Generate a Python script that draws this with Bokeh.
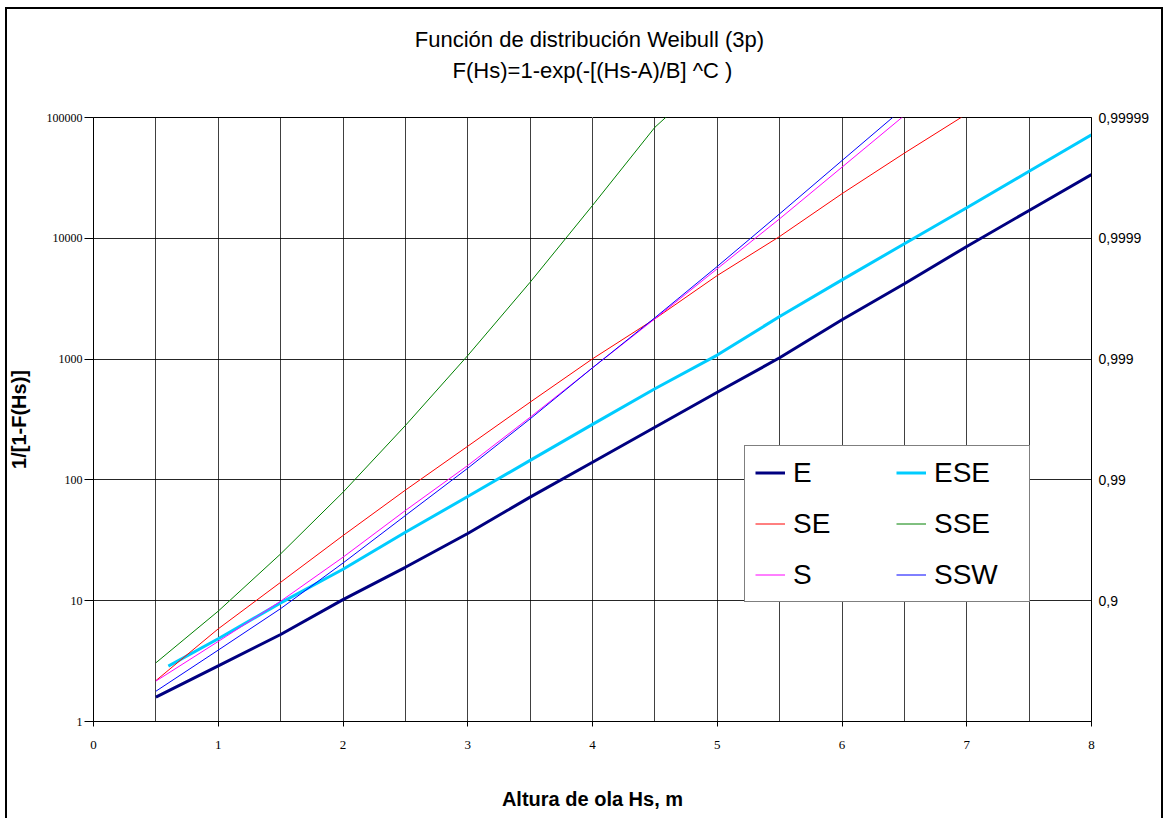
from bokeh.plotting import figure
from bokeh.models import (FixedTicker, Legend, LegendItem, Title, Range1d, LogAxis, LinearAxis)
from bokeh.embed import file_html
from bokeh.resources import INLINE

# ---- data ----
x_E = [0.5, 1, 1.5, 2, 2.5, 3, 3.5, 4, 4.5, 5, 5.5, 6, 6.5, 7, 7.5, 8]
y_E = [1.59, 2.89, 5.25, 10.2, 18.9, 36, 72, 140, 273, 532, 1025, 2115, 4200, 8560, 17000, 33700]

x_ESE = [0.6, 1, 1.5, 2, 2.5, 3, 3.5, 4, 4.5, 5, 5.5, 6, 6.5, 7, 7.5, 8]
y_ESE = [2.87, 4.84, 9.6, 18.2, 36.9, 72.8, 145, 288, 568, 1080, 2253, 4530, 9010, 17900, 35900, 71900]

x_SE = [0.5, 1, 1.5, 2, 2.5, 3, 3.5, 4, 4.5, 5, 5.5, 6, 6.5, 7]
y_SE = [2.18, 5.85, 14.2, 34.6, 82.3, 190, 440, 1005, 2155, 4920, 10350, 23400, 50700, 107000]

x_SSE = [0.5, 1, 1.5, 2, 2.5, 3, 3.5, 4, 4.5, 4.6]
y_SSE = [3.06, 8.2, 24.4, 79, 282, 1070, 4330, 18700, 83000, 103000]

x_S = [0.5, 1, 1.5, 2, 2.5, 3, 3.5, 4, 4.5, 5, 5.5, 6, 6.5]
y_S = [2.16, 4.6, 9.9, 22.9, 55.8, 131.6, 330, 847, 2155, 5600, 14500, 38800, 104000]

x_SSW = [0.5, 1, 1.5, 2, 2.5, 3, 3.5, 4, 4.5, 5, 5.5, 6, 6.5]
y_SSW = [1.78, 3.9, 8.6, 20.5, 50.7, 125, 320, 847, 2200, 5850, 15950, 44000, 121000]

x_marker = [0]
y_marker = [1]

x_ticks = [0, 1, 2, 3, 4, 5, 6, 7, 8]
x_grid = [0, 0.5, 1, 1.5, 2, 2.5, 3, 3.5, 4, 4.5, 5, 5.5, 6, 6.5, 7, 7.5, 8]
y_ticks = [1, 10, 100, 1000, 10000, 100000]
right_ticks = [10, 100, 1000, 10000, 100000]
right_labels = ["0,9", "0,99", "0,999", "0,9999", "0,99999"]
spacer_ticks = [4]

title1 = "Función de distribución  Weibull (3p)"
title2 = "F(Hs)=1-exp(-[(Hs-A)/B] ^C )"
x_title = "Altura de ola Hs, m"
y_title = "1/[1-F(Hs)]"

W, H = 1166, 818
L, R, T, B = 93, 1091, 117, 721

# outer chart-area frame (drawn as CSS background lines behind a transparent canvas)
frame_css = {
    "background-color": "white",
    "background-image": ("linear-gradient(#000,#000), linear-gradient(#000,#000), "
                         "linear-gradient(#000,#000)"),
    "background-position": "5px 7px, 5px 7px, 1161px 7px",
    "background-size": "2px 811px, 1158px 2px, 2px 811px",
    "background-repeat": "no-repeat",
}

p = figure(width=W, height=H, y_axis_type="log", output_backend="svg",
           toolbar_location=None, x_range=Range1d(0, 8), y_range=Range1d(1, 100000),
           min_border_left=L, min_border_right=W - R, min_border_top=T,
           min_border_bottom=H - B, styles=frame_css)
p.background_fill_color = "white"
p.border_fill_color = None
p.outline_line_color = "black"
p.outline_line_width = 1

# the bottom x axis and left y axis (grab before adding extra axes)
xa = p.xaxis[0]
ya = p.yaxis[0]

# invisible spacer (white tick, no label) between the frame and the titles
spacer = LinearAxis(ticker=FixedTicker(ticks=spacer_ticks, minor_ticks=[]),
                    axis_line_color=None,
                    major_tick_line_color="white", minor_tick_line_color=None,
                    major_tick_out=33, major_tick_in=0, minor_tick_out=0, minor_tick_in=0,
                    major_label_standoff=0, major_label_text_font_size="0px",
                    major_label_text_color=None)
p.add_layout(spacer, "above")
# subtitle first -> nearest to the plot
p.add_layout(Title(text=title2, align="center", offset=4, standoff=4,
                   text_font="Liberation Sans", text_font_size="22px",
                   text_font_style="normal", text_color="black"), "above")
p.add_layout(Title(text=title1, align="center", offset=4, standoff=4,
                   text_font="Liberation Sans", text_font_size="22px",
                   text_font_style="normal", text_color="black"), "above")

# axes
xa.ticker = FixedTicker(ticks=x_ticks, minor_ticks=[])
xa.major_label_text_font = "Liberation Serif"
xa.major_label_text_font_size = "13px"
xa.major_label_text_color = "black"
xa.major_tick_out = 5
xa.major_tick_in = 0
xa.major_label_standoff = 14
xa.axis_line_color = "black"
xa.axis_label = x_title
xa.axis_label_text_font = "Liberation Sans"
xa.axis_label_text_font_style = "bold"
xa.axis_label_text_font_size = "20px"
xa.axis_label_text_color = "black"
xa.axis_label_standoff = 36

ya.ticker = FixedTicker(ticks=y_ticks, minor_ticks=[])
ya.major_label_overrides = {v: str(v) for v in y_ticks}
ya.major_label_text_font = "Liberation Serif"
ya.major_label_text_font_size = "12px"
ya.major_label_text_color = "black"
ya.major_tick_out = 9
ya.major_tick_in = 0
ya.major_label_standoff = 2
ya.axis_label = y_title
ya.axis_label_text_font = "Liberation Sans"
ya.axis_label_text_font_style = "bold"
ya.axis_label_text_font_size = "20px"
ya.axis_label_text_color = "black"
ya.axis_label_standoff = 14

ra = LogAxis(ticker=FixedTicker(ticks=right_ticks, minor_ticks=[]))
ra.major_label_overrides = dict(zip(right_ticks, right_labels))
ra.major_label_text_font = "Liberation Sans"
ra.major_label_text_font_size = "14px"
ra.major_label_text_color = "black"
ra.major_tick_out = 0
ra.major_tick_in = 0
ra.major_label_standoff = 7
ra.axis_line_color = "black"
p.add_layout(ra, "right")

# grid
p.xgrid.ticker = FixedTicker(ticks=x_grid)
p.xgrid.grid_line_color = "black"
p.xgrid.grid_line_alpha = 0.75
p.ygrid.ticker = FixedTicker(ticks=y_ticks)
p.ygrid.grid_line_color = "black"
p.ygrid.grid_line_alpha = 0.85

# series
rE = p.line(x_E, y_E, line_color="#000080", line_width=3)
rESE = p.line(x_ESE, y_ESE, line_color="#00CCFF", line_width=3)
rSE = p.line(x_SE, y_SE, line_color="#FF0000", line_width=1)
rSSE = p.line(x_SSE, y_SSE, line_color="#008000", line_width=1)
rS = p.line(x_S, y_S, line_color="#FF00FF", line_width=1)
rSSW = p.line(x_SSW, y_SSW, line_color="#0000FF", line_width=1)
p.scatter(x_marker, y_marker, marker="cross", size=8, line_color="#00A0A0", line_width=1)

legend = Legend(items=[
    LegendItem(label="E", renderers=[rE]),
    LegendItem(label="SE", renderers=[rSE]),
    LegendItem(label="S", renderers=[rS]),
    LegendItem(label="ESE", renderers=[rESE]),
    LegendItem(label="SSE", renderers=[rSSE]),
    LegendItem(label="SSW", renderers=[rSSW]),
], ncols=2, location=(651, 119))
legend.label_text_font = "Liberation Sans"
legend.label_text_font_size = "28px"
legend.label_text_color = "black"
legend.glyph_width = 30
legend.glyph_height = 33
legend.label_height = 33
legend.label_width = 85
legend.label_standoff = 8
legend.spacing = 18
legend.padding = 10
legend.margin = 0
legend.border_line_color = "black"
legend.border_line_width = 1
legend.background_fill_color = "white"
legend.background_fill_alpha = 1
p.add_layout(legend, "center")

open("out.html", "w").write(file_html(p, INLINE))
